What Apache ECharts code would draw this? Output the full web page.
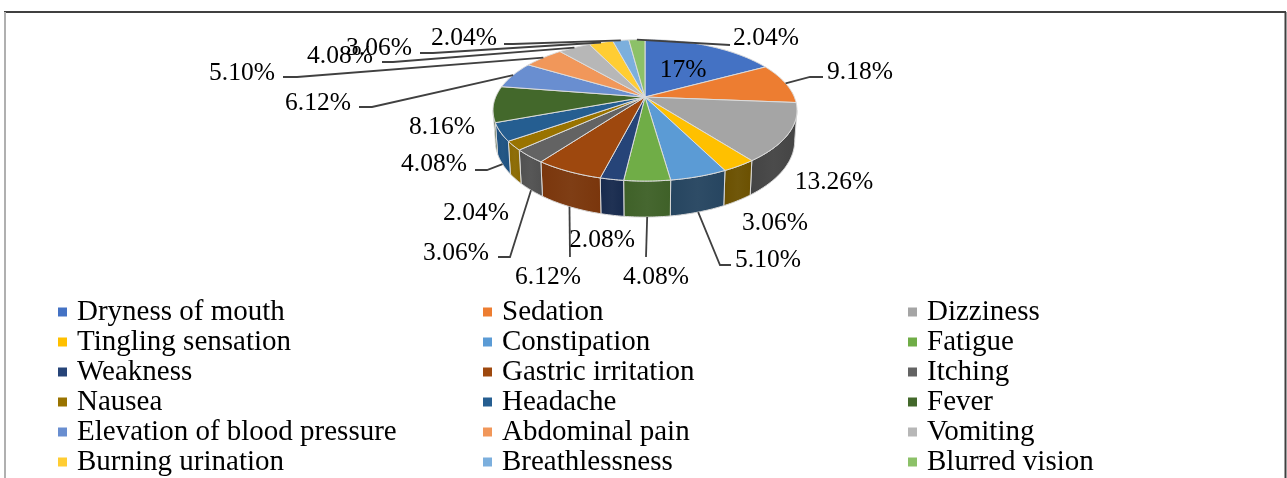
<!DOCTYPE html>
<html>
<head>
<meta charset="utf-8">
<style>
  html, body { margin: 0; padding: 0; background: #fff; }
  #chart { width: 1287px; height: 478px; }
</style>
<script src="https://cdn.jsdelivr.net/npm/echarts@6/dist/echarts.min.js"></script>
</head>
<body>
<div id="chart"></div>
<script>
const categories = [
  "Dryness of mouth", "Sedation", "Dizziness",
  "Tingling sensation", "Constipation", "Fatigue",
  "Weakness", "Gastric irritation", "Itching",
  "Nausea", "Headache", "Fever",
  "Elevation of blood pressure", "Abdominal pain", "Vomiting",
  "Burning urination", "Breathlessness", "Blurred vision"
]
const values = [17, 9.18, 13.26, 3.06, 5.10, 4.08, 2.08, 6.12, 3.06, 2.04, 4.08, 8.16, 6.12, 5.10, 4.08, 3.06, 2.04, 2.04]
const valueLabels = ["17%", "9.18%", "13.26%", "3.06%", "5.10%", "4.08%", "2.08%", "6.12%", "3.06%", "2.04%", "4.08%", "8.16%", "6.12%", "5.10%", "4.08%", "3.06%", "2.04%", "2.04%"]

const colors = ["#4472C4", "#ED7D31", "#A5A5A5", "#FFC000", "#5B9BD5", "#70AD47", "#264478", "#9E480E", "#636363", "#997300", "#255E91", "#43682B", "#698ED0", "#F1975A", "#B7B7B7", "#FFCD33", "#7CAFDD", "#8CC168"]
const wallColors = ["#2a4478", "#8e4b1d", "#444444", "#6b5000", "#264560", "#3f6128", "#172a4d", "#7a360c", "#505050", "#8a6800", "#1c5080", "#2f4a1e", "#3f5580", "#915a36", "#6e6e6e", "#997b1f", "#4a6985", "#546d3e"]

// label centres and leader elbows
const labelPos = [[683, 70], [860, 72], [834, 182], [775, 223], [768, 260], [656, 277], [602, 240], [548, 277], [456, 253], [476, 213], [434, 164], [442, 127], [318, 103], [242, 73], [340, 56], [379, 48], [464, 38], [766, 38]]
const leaders = {
  1: [[810, 77], [823, 77]],
  4: [[720, 265], [731, 265]],
  5: [[646, 257]],
  7: [[570, 257]],
  8: [[510, 257], [498, 257]],
  10: [[487, 170], [475, 170]],
  12: [[372, 107], [359, 107]],
  13: [[297, 77], [283, 77]],
  14: [[393, 62], [382, 62]],
  15: [[433, 53], [420, 53]],
  16: [[513, 44], [504, 44]],
  17: [[730, 45]]
}

// perspective disc: apex of the pie and how the unit circle projects
const apexX = 645, apexY = 97
const radX = 149.3, radY = 68.3, persp = 0.1873, depth = 29.3
const total = values.reduce((a, b) => a + b, 0)
const starts = []
values.reduce((acc, v, i) => { starts[i] = acc; return acc + v }, 0)
const toAngle = (v) => v / total * Math.PI * 2

function rimPoint(theta) {
  const w = 1 + persp * Math.cos(theta)
  return [apexX + radX * Math.sin(theta) / w, apexY - radY * Math.cos(theta) / w]
}
function lowPoint(theta) {
  const w = 1 + persp * Math.cos(theta)
  const p = rimPoint(theta)
  return [apexX + (p[0] - apexX) * 0.985, p[1] + depth / w]
}
function sample(a0, a1, fn) {
  const n = Math.max(2, Math.ceil(Math.abs(a1 - a0) / 0.015))
  const pts = []
  for (let i = 0; i <= n; i++) pts.push(fn(a0 + (a1 - a0) * i / n))
  return pts
}
// the side wall shows only between the two tangent points of the rim
const wallFrom = Math.acos(-persp), wallTo = Math.PI * 2 - wallFrom

function renderSlice(i) {
  return function () {
    const a0 = toAngle(starts[i]), a1 = toAngle(starts[i] + values[i])
    const kids = []
    const lo = Math.max(a0, wallFrom), hi = Math.min(a1, wallTo)
    if (hi > lo) {
      const upper = sample(lo, hi, rimPoint)
      const lower = sample(hi, lo, lowPoint)
      kids.push({
        type: "polygon",
        shape: { points: upper.concat(lower) },
        style: {
          fill: new echarts.graphic.LinearGradient(0, 0, 1, 0, [
            { offset: 0, color: wallColors[i] },
            { offset: 0.5, color: echarts.color.lift(wallColors[i], 0.04) },
            { offset: 1, color: wallColors[i] }
          ]),
          stroke: "#d9d9d9",
          lineWidth: 1
        }
      })
    }
    kids.push({
      type: "polygon",
      shape: { points: [[apexX, apexY]].concat(sample(a0, a1, rimPoint)) },
      style: { fill: colors[i], stroke: "#dcdcdc", lineWidth: 1 }
    })
    if (leaders[i]) {
      const mid = (a0 + a1) / 2
      const front = mid > wallFrom && mid < wallTo
      kids.push({
        type: "polyline",
        shape: { points: [front ? lowPoint(mid) : rimPoint(mid)].concat(leaders[i]) },
        style: { fill: null, stroke: "#404040", lineWidth: 1.8 }
      })
    }
    kids.push({
      type: "text",
      style: {
        x: labelPos[i][0], y: labelPos[i][1],
        text: valueLabels[i],
        fill: "#000",
        font: '25.5px "Liberation Serif"',
        align: "center",
        verticalAlign: "middle"
      }
    })
    return { type: "group", children: kids }
  }
}

const legendLeft = [53, 478, 903]
const myChart = echarts.init(document.getElementById("chart"))
myChart.setOption({
  animation: false,
  backgroundColor: "#fff",
  color: colors,
  graphic: [
    { type: "line", shape: { x1: 4, y1: 12, x2: 1286, y2: 12 }, style: { stroke: "#404040", lineWidth: 2 } },
    { type: "line", shape: { x1: 5, y1: 12, x2: 5, y2: 478 }, style: { stroke: "#b0b0b0", lineWidth: 2 } },
    { type: "line", shape: { x1: 1285.5, y1: 12, x2: 1285.5, y2: 478 }, style: { stroke: "#404040", lineWidth: 2 } }
  ],
  legend: legendLeft.map((left, col) => ({
    orient: "vertical",
    left: left,
    top: 292,
    height: 400,
    icon: "rect",
    itemWidth: 9,
    itemHeight: 9,
    itemGap: 0,
    selectedMode: false,
    data: categories.filter((c, i) => i % 3 === col),
    textStyle: {
      fontFamily: "Liberation Serif",
      fontSize: 29,
      color: "#000",
      lineHeight: 30,
      height: 30,
      padding: [0, 0, 0, 5]
    }
  })),
  series: categories.map((name, i) => ({
    type: "custom",
    name: name,
    coordinateSystem: "none",
    silent: true,
    itemStyle: { color: colors[i] },
    data: [[values[i]]],
    renderItem: renderSlice(i)
  }))
})
</script>
</body>
</html>
